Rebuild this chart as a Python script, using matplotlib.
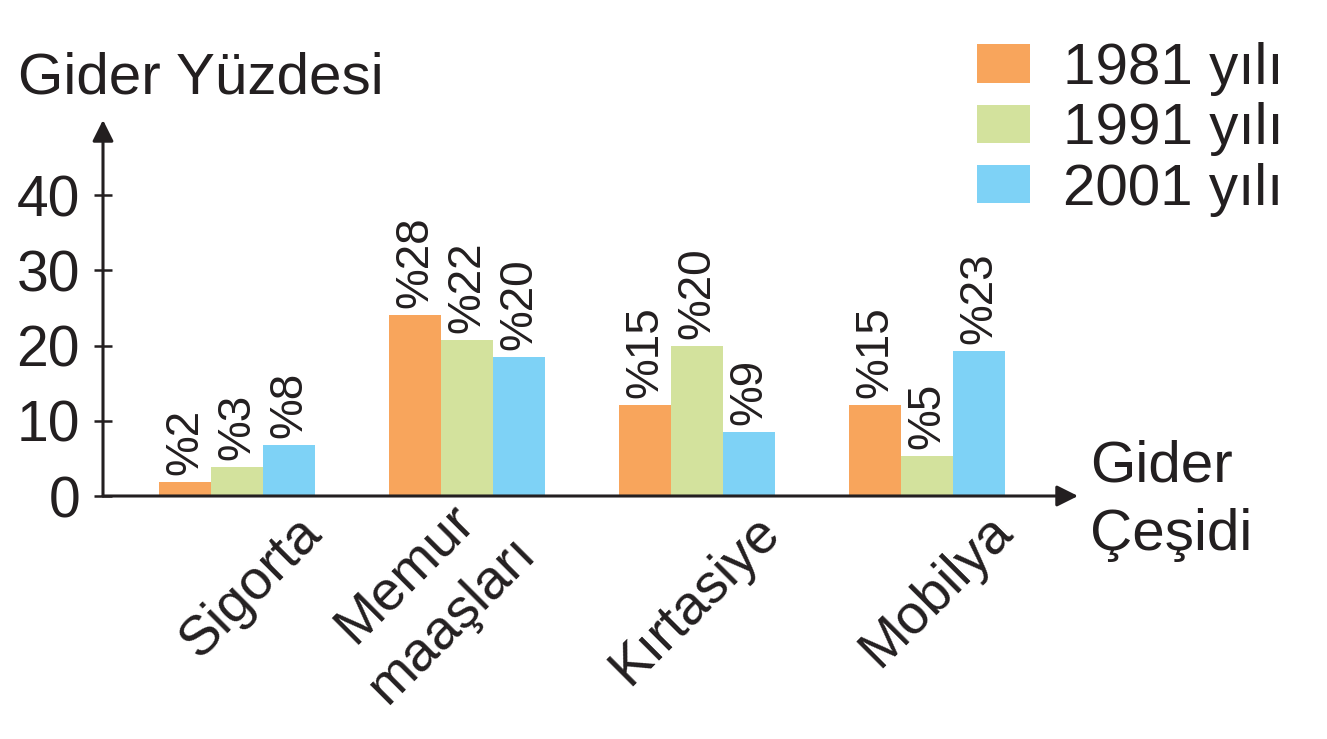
import matplotlib
matplotlib.use("Agg")
import matplotlib.pyplot as plt
import matplotlib.transforms as mtransforms
import numpy as np

plt.rcParams['font.family'] = ['Liberation Sans', 'DejaVu Sans']

# ---- data ----
categories = ["Sigorta", "Memur\nmaaşları", "Kırtasiye", "Mobilya"]
series_names = ["1981 yılı", "1991 yılı", "2001 yılı"]
# bar heights as drawn in the picture
h1981 = [1.9, 24.1, 12.1, 12.1]
h1991 = [3.9, 20.8, 20.0, 5.3]
h2001 = [6.8, 18.5, 8.5, 19.3]
# value labels printed above the bars
lab1981 = ["%2", "%28", "%15", "%15"]
lab1991 = ["%3", "%22", "%20", "%5"]
lab2001 = ["%8", "%20", "%9", "%23"]
yticks = [0, 10, 20, 30, 40]

colors = ["#F8A55C", "#D3E29D", "#7ED2F6"]
ink = "#231F20"

W, H = 1327, 739
fig = plt.figure(figsize=(W / 100, H / 100), dpi=100)
ax = fig.add_axes([103 / W, (H - 496) / H, (1078 - 103) / W, (496 - 120) / H])

x = np.arange(len(categories))
bw = 0.226
heights = [h1981, h1991, h2001]
labels = [lab1981, lab1991, lab2001]
for j in range(3):
    xs = x + (j - 1) * bw
    ax.bar(xs, heights[j], width=bw, color=colors[j], label=series_names[j], zorder=2)
    for xi, hv, lb in zip(xs, heights[j], labels[j]):
        ax.annotate(lb, (xi, hv), xytext=(0, 5), textcoords="offset points",
                    rotation=90, ha="center", va="bottom", fontsize=33, color=ink)

ax.set_xlim(-0.583, 3.657)
ax.set_ylim(0, 50)
for s in ax.spines.values():
    s.set_visible(False)

ax.set_yticks(yticks)
ax.set_yticklabels([str(v) for v in yticks], fontsize=41, color=ink)
ax.tick_params(axis="y", direction="inout", length=13, width=1.8, color=ink, pad=10)
ax.set_xticks([])

# axes arrows
arrow = dict(arrowstyle="-|>", color=ink, lw=2.2, mutation_scale=32, shrinkA=0, shrinkB=0)
ax.annotate("", xy=(0, 1), xytext=(0, 0), xycoords="axes fraction",
            textcoords="axes fraction", arrowprops=arrow, annotation_clip=False)
ax.annotate("", xy=(1, 0), xytext=(0, 0), xycoords="axes fraction",
            textcoords="axes fraction", arrowprops=arrow, annotation_clip=False)

# category labels, rotated 45 degrees
label_offsets = [(77, -29), (37, -26), (75, -28), (78, -27)]  # pixels
for i, (cat, (dx, dy)) in enumerate(zip(categories, label_offsets)):
    tr = ax.get_xaxis_transform() + mtransforms.ScaledTranslation(dx / 100, dy / 100, fig.dpi_scale_trans)
    ax.text(i, 0, cat, transform=tr, rotation=45, rotation_mode="anchor",
            ha="right", va="center", multialignment="center",
            fontsize=40, color=ink, linespacing=1.35)

# axis titles
fig.text(18 / W, 1 - 93 / H, "Gider Yüzdesi", fontsize=42, color=ink, va="baseline", ha="left")
fig.text(1090 / W, 1 - 482 / H, "Gider", fontsize=42, color=ink, va="baseline", ha="left")
fig.text(1090 / W, 1 - 550 / H, "Çeşidi", fontsize=42, color=ink, va="baseline", ha="left")

# legend
ax.legend(loc="upper left", bbox_to_anchor=(977 / W, 1 - 42 / H), bbox_transform=fig.transFigure,
          frameon=False, fontsize=42, handlelength=0.91, handleheight=0.63,
          handletextpad=0.57, labelspacing=0.11, borderpad=0, borderaxespad=0,
          labelcolor=ink)

fig.savefig("out.png", dpi=100, facecolor="white")
